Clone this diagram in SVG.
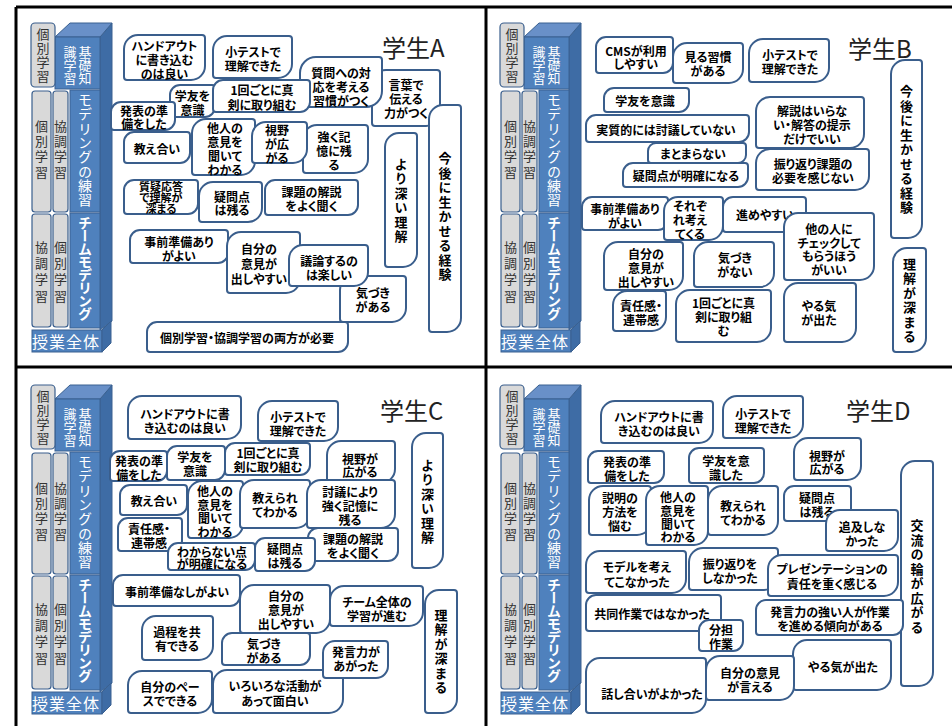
<svg xmlns="http://www.w3.org/2000/svg" xmlns:xlink="http://www.w3.org/1999/xlink" width="952" height="726" viewBox="0 0 952 726">
<style>
.b{fill:#fff;stroke:#3A5E8C;stroke-width:2}
.t{font-family:"Noto Sans CJK JP","Noto Sans CJK SC",sans-serif;font-size:12px;font-weight:700;fill:#000;text-anchor:middle;dominant-baseline:central;font-feature-settings:"palt"}
.v{writing-mode:vertical-rl;font-size:13px;letter-spacing:1.5px;font-feature-settings:normal}
.ti{font-family:"Noto Sans CJK JP","Noto Sans CJK SC",sans-serif;font-size:24px;fill:#222}
.fr{stroke:#000;stroke-width:3;fill:none}
.gb{fill:#D9D9D9;stroke:#3A5F8E;stroke-width:1.2}
.gt{font-family:"Noto Sans CJK JP","Noto Sans CJK SC",sans-serif;font-size:13px;fill:#333;text-anchor:middle;writing-mode:vertical-rl;dominant-baseline:central}
.wt{fill:#fff}
.bf{fill:#4F81BD;stroke:#3A6191;stroke-width:1}
.bs{fill:#3E6CA5;stroke:#3A6191;stroke-width:1}
.btop{fill:#6990C8;stroke:#3A6191;stroke-width:1}
</style>
<defs>
<g id="bar">
 <polygon class="bs" points="100,37 112,23 112,321 100,330"/>
 <polygon class="btop" points="55,37 70,23 112,23 100,37"/>
 <rect class="bf" x="55" y="37" width="45" height="52"/>
 <rect class="bf" x="70" y="90" width="30" height="122"/>
 <rect class="bf" x="70" y="213" width="30" height="115"/>
 <rect class="gb" x="31" y="23" width="24" height="64" rx="4"/>
 <rect class="gb" x="32" y="91" width="19" height="121" rx="3"/>
 <rect class="gb" x="53" y="91" width="15" height="121" rx="3"/>
 <rect class="gb" x="32" y="214" width="19" height="113" rx="3"/>
 <rect class="gb" x="53" y="214" width="15" height="113" rx="3"/>
 <rect class="bf" x="32" y="330" width="70" height="22"/>
 <polygon class="bs" points="102,330 111,321 111,343 102,352"/>
 <text class="gt" x="43" y="56" style="letter-spacing:1px">個別学習</text>
 <text class="gt" x="41.5" y="150" style="letter-spacing:2.3px">個別学習</text>
 <text class="gt" x="60.5" y="150" style="letter-spacing:2.3px">協調学習</text>
 <text class="gt" x="41.5" y="273" style="letter-spacing:3.3px">協調学習</text>
 <text class="gt" x="60.5" y="273" style="letter-spacing:3.3px">個別学習</text>
 <text class="gt wt" x="85" y="65">基礎知</text>
 <text class="gt wt" x="70" y="65">識学習</text>
 <text class="gt wt" x="85" y="150" style="font-size:14px;letter-spacing:0.3px">モデリングの練習</text>
 <text class="gt wt" x="85" y="268" style="font-size:14px;font-weight:700;letter-spacing:-1px">チームモデリング</text>
 <text x="66" y="341" style="font-family:'Noto Sans CJK JP',sans-serif;font-size:16px;fill:#fff;text-anchor:middle;dominant-baseline:central;letter-spacing:1px">授業全体</text>
</g>
</defs>
<rect width="952" height="726" fill="#fff"/>
<g id="frame">
 <path class="fr" d="M16,7H952M16,7V726M486,7V726M16,367H952"/>
</g>
<g id="connectors"/>
<g id="barA"><use xlink:href="#bar"/></g>
<g id="barB"><use xlink:href="#bar" transform="translate(469,0)"/></g>
<g id="barC"><use xlink:href="#bar" transform="translate(0,362)"/></g>
<g id="barD"><use xlink:href="#bar" transform="translate(469,362)"/></g>
<text class="ti" x="382" y="57">学生A</text>
<text class="ti" x="848" y="58">学生B</text>
<text class="ti" x="380" y="420">学生C</text>
<text class="ti" x="846" y="420">学生D</text>

<g id="A1"><path class="b" d="M138,35h64a3,3 0 0 1 3,3v28a14,14 0 0 1 -14,14h-64a3,3 0 0 1 -3,-3v-28a14,14 0 0 1 14,-14z"/><text class="t"><tspan x="164.5" y="45">ハンドアウト</tspan><tspan x="164.5" y="59">に書き込む</tspan><tspan x="164.5" y="73">のは良い</tspan></text></g>
<g id="A2"><path class="b" d="M227,36h62a3,3 0 0 1 3,3v25a14,14 0 0 1 -14,14h-62a3,3 0 0 1 -3,-3v-25a14,14 0 0 1 14,-14z"/><text class="t"><tspan x="253" y="51">小テストで</tspan><tspan x="253" y="65">理解できた</tspan></text></g>
<g id="A4"><path class="b" d="M386,70h51a3,3 0 0 1 3,3v39a14,14 0 0 1 -14,14h-51a3,3 0 0 1 -3,-3v-39a14,14 0 0 1 14,-14z"/><text class="t"><tspan x="406" y="84">言葉で</tspan><tspan x="406" y="98">伝える</tspan><tspan x="406" y="112">力がつく</tspan></text></g>
<g id="A3"><path class="b" d="M316,57h63a3,3 0 0 1 3,3v31a16,16 0 0 1 -16,16h-63a3,3 0 0 1 -3,-3v-31a16,16 0 0 1 16,-16z"/><text class="t"><tspan x="341" y="72">質問への対</tspan><tspan x="341" y="86">応を考える</tspan><tspan x="341" y="100">習慣がつく</tspan></text></g>
<g id="A5"><path class="b" d="M443,105h15a3,3 0 0 1 3,3v210a14,14 0 0 1 -14,14h-15a3,3 0 0 1 -3,-3v-210a14,14 0 0 1 14,-14z"/><text class="t v" x="445" y="217">今後に生かせる経験</text></g>
<g id="A7"><path class="b" d="M180,85h32a3,3 0 0 1 3,3v19a10,10 0 0 1 -10,10h-32a3,3 0 0 1 -3,-3v-19a10,10 0 0 1 10,-10z"/><text class="t"><tspan x="192.5" y="95">学友を</tspan><tspan x="192.5" y="109">意識</tspan></text></g>
<g id="A8"><path class="b" d="M223,80h84a3,3 0 0 1 3,3v19a10,10 0 0 1 -10,10h-84a3,3 0 0 1 -3,-3v-19a10,10 0 0 1 10,-10z"/><text class="t"><tspan x="262" y="89">1回ごとに真</tspan><tspan x="262" y="104">剣に取り組む</tspan></text></g>
<g id="A9"><path class="b" d="M121,102h51a3,3 0 0 1 3,3v15a10,10 0 0 1 -10,10h-51a3,3 0 0 1 -3,-3v-15a10,10 0 0 1 10,-10z"/><text class="t"><tspan x="144" y="110">発表の準</tspan><tspan x="144" y="123">備をした</tspan></text></g>
<g id="A6"><path class="b" d="M399,133h15a3,3 0 0 1 3,3v117a14,14 0 0 1 -14,14h-15a3,3 0 0 1 -3,-3v-117a14,14 0 0 1 14,-14z"/><text class="t v" x="401" y="201">より深い理解</text></g>
<g id="A10"><path class="b" d="M206,119h46a3,3 0 0 1 3,3v39a14,14 0 0 1 -14,14h-46a3,3 0 0 1 -3,-3v-39a14,14 0 0 1 14,-14z"/><text class="t"><tspan x="225" y="127">他人の</tspan><tspan x="225" y="141">意見を</tspan><tspan x="225" y="155">聞いて</tspan><tspan x="225" y="169">わかる</tspan></text></g>
<g id="A11"><path class="b" d="M134,132h53a3,3 0 0 1 3,3v18a10,10 0 0 1 -10,10h-53a3,3 0 0 1 -3,-3v-18a10,10 0 0 1 10,-10z"/><text class="t" x="157" y="148">教え合い</text></g>
<g id="A13"><path class="b" d="M317,125h48a3,3 0 0 1 3,3v31a14,14 0 0 1 -14,14h-48a3,3 0 0 1 -3,-3v-31a14,14 0 0 1 14,-14z"/><text class="t"><tspan x="334" y="136">強く記</tspan><tspan x="334" y="150">憶に残</tspan><tspan x="334" y="164">る</tspan></text></g>
<g id="A12"><path class="b" d="M266,122h38a3,3 0 0 1 3,3v24a14,14 0 0 1 -14,14h-38a3,3 0 0 1 -3,-3v-24a14,14 0 0 1 14,-14z"/><text class="t"><tspan x="277" y="129">視野</tspan><tspan x="277" y="143">が広</tspan><tspan x="277" y="157">がる</tspan></text></g>
<g id="A14"><path class="b" d="M134,180h61a3,3 0 0 1 3,3v21a10,10 0 0 1 -10,10h-61a3,3 0 0 1 -3,-3v-21a10,10 0 0 1 10,-10z"/><text class="t" style="font-size:11px"><tspan x="161" y="186">質疑応答</tspan><tspan x="161" y="197">で理解が</tspan><tspan x="161" y="208">深まる</tspan></text></g>
<g id="A15"><path class="b" d="M213,182h46a3,3 0 0 1 3,3v23a14,14 0 0 1 -14,14h-46a3,3 0 0 1 -3,-3v-23a14,14 0 0 1 14,-14z"/><text class="t"><tspan x="232" y="196">疑問点</tspan><tspan x="232" y="209">は残る</tspan></text></g>
<g id="A16"><path class="b" d="M275,180h80a3,3 0 0 1 3,3v22a10,10 0 0 1 -10,10h-80a3,3 0 0 1 -3,-3v-22a10,10 0 0 1 10,-10z"/><text class="t"><tspan x="311.5" y="191">課題の解説</tspan><tspan x="311.5" y="205">をよく聞く</tspan></text></g>
<g id="A17"><path class="b" d="M140,230h85a3,3 0 0 1 3,3v20a10,10 0 0 1 -10,10h-85a3,3 0 0 1 -3,-3v-20a10,10 0 0 1 10,-10z"/><text class="t"><tspan x="179" y="241">事前準備あり</tspan><tspan x="179" y="255">がよい</tspan></text></g>
<g id="A18"><path class="b" d="M241,232h56a3,3 0 0 1 3,3v44a14,14 0 0 1 -14,14h-56a3,3 0 0 1 -3,-3v-44a14,14 0 0 1 14,-14z"/><text class="t"><tspan x="259" y="248">自分の</tspan><tspan x="259" y="263">意見が</tspan><tspan x="259" y="278">出しやすい</tspan></text></g>
<g id="A20"><path class="b" d="M354,276h49a3,3 0 0 1 3,3v29a14,14 0 0 1 -14,14h-49a3,3 0 0 1 -3,-3v-29a14,14 0 0 1 14,-14z"/><text class="t"><tspan x="373" y="292">気づき</tspan><tspan x="373" y="306">がある</tspan></text></g>
<g id="A19"><path class="b" d="M303,245h62a3,3 0 0 1 3,3v24a14,14 0 0 1 -14,14h-62a3,3 0 0 1 -3,-3v-24a14,14 0 0 1 14,-14z"/><text class="t"><tspan x="329" y="260">議論するの</tspan><tspan x="329" y="274">は楽しい</tspan></text></g>
<g id="A21"><path class="b" d="M157,322h188a3,3 0 0 1 3,3v17a10,10 0 0 1 -10,10h-188a3,3 0 0 1 -3,-3v-17a10,10 0 0 1 10,-10z"/><text class="t" x="247" y="337">個別学習・協調学習の両方が必要</text></g>

<g id="B1"><path class="b" d="M606,37h64a3,3 0 0 1 3,3v23a10,10 0 0 1 -10,10h-64a3,3 0 0 1 -3,-3v-23a10,10 0 0 1 10,-10z"/><text class="t"><tspan x="636" y="50">CMSが利用</tspan><tspan x="636" y="63">しやすい</tspan></text></g>
<g id="B2"><path class="b" d="M687,43h53a3,3 0 0 1 3,3v23a14,14 0 0 1 -14,14h-53a3,3 0 0 1 -3,-3v-23a14,14 0 0 1 14,-14z"/><text class="t"><tspan x="708" y="56">見る習慣</tspan><tspan x="708" y="70">がある</tspan></text></g>
<g id="B3"><path class="b" d="M763,39h63a3,3 0 0 1 3,3v26a14,14 0 0 1 -14,14h-63a3,3 0 0 1 -3,-3v-26a14,14 0 0 1 14,-14z"/><text class="t"><tspan x="790" y="54">小テストで</tspan><tspan x="790" y="68">理解できた</tspan></text></g>
<g id="B5"><path class="b" d="M905,60h14a3,3 0 0 1 3,3v161a14,14 0 0 1 -14,14h-14a3,3 0 0 1 -3,-3v-161a14,14 0 0 1 14,-14z"/><text class="t v" x="906.5" y="150">今後に生かせる経験</text></g>
<g id="B6"><path class="b" d="M907,248h16a3,3 0 0 1 3,3v87a14,14 0 0 1 -14,14h-16a3,3 0 0 1 -3,-3v-87a14,14 0 0 1 14,-14z"/><text class="t v" x="909.5" y="301">理解が深まる</text></g>
<g id="B7"><path class="b" d="M614,88h72a3,3 0 0 1 3,3v11a10,10 0 0 1 -10,10h-72a3,3 0 0 1 -3,-3v-11a10,10 0 0 1 10,-10z"/><text class="t" x="645" y="100">学友を意識</text></g>
<g id="B8"><path class="b" d="M596,115h150a3,3 0 0 1 3,3v14a10,10 0 0 1 -10,10h-150a3,3 0 0 1 -3,-3v-14a10,10 0 0 1 10,-10z"/><text class="t" x="666" y="129">実質的には討議していない</text></g>
<g id="B9"><path class="b" d="M656,143h87a3,3 0 0 1 3,3v9a8,8 0 0 1 -8,8h-87a3,3 0 0 1 -3,-3v-9a8,8 0 0 1 8,-8z"/><text class="t" x="693" y="153.5">まとまらない</text></g>
<g id="B10"><path class="b" d="M633,163h112a3,3 0 0 1 3,3v11a10,10 0 0 1 -10,10h-112a3,3 0 0 1 -3,-3v-11a10,10 0 0 1 10,-10z"/><text class="t" x="686" y="175">疑問点が明確になる</text></g>
<g id="B11"><path class="b" d="M770,97h91a3,3 0 0 1 3,3v34a14,14 0 0 1 -14,14h-91a3,3 0 0 1 -3,-3v-34a14,14 0 0 1 14,-14z"/><text class="t"><tspan x="812" y="110">解説はいらな</tspan><tspan x="812" y="124">い・解答の提示</tspan><tspan x="812" y="138">だけでいい</tspan></text></g>
<g id="B12"><path class="b" d="M770,149h96a3,3 0 0 1 3,3v24a14,14 0 0 1 -14,14h-96a3,3 0 0 1 -3,-3v-24a14,14 0 0 1 14,-14z"/><text class="t"><tspan x="813" y="163">振り返り課題の</tspan><tspan x="813" y="177">必要を感じない</tspan></text></g>
<g id="B13"><path class="b" d="M592,197h73a3,3 0 0 1 3,3v20a10,10 0 0 1 -10,10h-73a3,3 0 0 1 -3,-3v-20a10,10 0 0 1 10,-10z"/><text class="t"><tspan x="625" y="208">事前準備あり</tspan><tspan x="625" y="222">がよい</tspan></text></g>
<g id="B14"><path class="b" d="M678,197h42a3,3 0 0 1 3,3v26a14,14 0 0 1 -14,14h-42a3,3 0 0 1 -3,-3v-26a14,14 0 0 1 14,-14z"/><text class="t"><tspan x="690" y="205">それぞ</tspan><tspan x="690" y="219">れ考え</tspan><tspan x="690" y="233">てくる</tspan></text></g>
<g id="B15"><path class="b" d="M733,197h70a3,3 0 0 1 3,3v22a10,10 0 0 1 -10,10h-70a3,3 0 0 1 -3,-3v-22a10,10 0 0 1 10,-10z"/><text class="t" x="765" y="214">進めやすい</text></g>
<g id="B18"><path class="b" d="M798,213h73a3,3 0 0 1 3,3v50a14,14 0 0 1 -14,14h-73a3,3 0 0 1 -3,-3v-50a14,14 0 0 1 14,-14z"/><text class="t"><tspan x="829" y="228">他の人に</tspan><tspan x="829" y="241.5">チェックして</tspan><tspan x="829" y="255">もらうほう</tspan><tspan x="829" y="268.5">がいい</tspan></text></g>
<g id="B16"><path class="b" d="M618,242h62a3,3 0 0 1 3,3v31a14,14 0 0 1 -14,14h-62a3,3 0 0 1 -3,-3v-31a14,14 0 0 1 14,-14z"/><text class="t"><tspan x="646" y="253">自分の</tspan><tspan x="646" y="267">意見が</tspan><tspan x="646" y="281">出しやすい</tspan></text></g>
<g id="B17"><path class="b" d="M708,242h63a3,3 0 0 1 3,3v28a14,14 0 0 1 -14,14h-63a3,3 0 0 1 -3,-3v-28a14,14 0 0 1 14,-14z"/><text class="t"><tspan x="735" y="257">気づき</tspan><tspan x="735" y="271">がない</tspan></text></g>
<g id="B19"><path class="b" d="M627,291h36a3,3 0 0 1 3,3v23a14,14 0 0 1 -14,14h-36a3,3 0 0 1 -3,-3v-23a14,14 0 0 1 14,-14z"/><text class="t"><tspan x="641" y="305">責任感・</tspan><tspan x="641" y="319">連帯感</tspan></text></g>
<g id="B20"><path class="b" d="M690,290h78a3,3 0 0 1 3,3v35a14,14 0 0 1 -14,14h-78a3,3 0 0 1 -3,-3v-35a14,14 0 0 1 14,-14z"/><text class="t"><tspan x="723.5" y="302">1回ごとに真</tspan><tspan x="723.5" y="316">剣に取り組</tspan><tspan x="723.5" y="330">む</tspan></text></g>
<g id="B21"><path class="b" d="M798,283h55a3,3 0 0 1 3,3v42a14,14 0 0 1 -14,14h-55a3,3 0 0 1 -3,-3v-42a14,14 0 0 1 14,-14z"/><text class="t"><tspan x="819" y="305">やる気</tspan><tspan x="819" y="319">が出た</tspan></text></g>

<g id="C1"><path class="b" d="M142,396h96a3,3 0 0 1 3,3v26a14,14 0 0 1 -14,14h-96a3,3 0 0 1 -3,-3v-26a14,14 0 0 1 14,-14z"/><text class="t"><tspan x="185" y="413">ハンドアウトに書</tspan><tspan x="185" y="427">き込むのは良い</tspan></text></g>
<g id="C2"><path class="b" d="M272,401h63a3,3 0 0 1 3,3v23a14,14 0 0 1 -14,14h-63a3,3 0 0 1 -3,-3v-23a14,14 0 0 1 14,-14z"/><text class="t"><tspan x="298" y="416">小テストで</tspan><tspan x="298" y="430">理解できた</tspan></text></g>
<g id="C4"><path class="b" d="M120,451h44a3,3 0 0 1 3,3v17a10,10 0 0 1 -10,10h-44a3,3 0 0 1 -3,-3v-17a10,10 0 0 1 10,-10z"/><text class="t"><tspan x="139" y="460">発表の準</tspan><tspan x="139" y="474">備をした</tspan></text></g>
<g id="C5"><path class="b" d="M177,446h45a3,3 0 0 1 3,3v21a10,10 0 0 1 -10,10h-45a3,3 0 0 1 -3,-3v-21a10,10 0 0 1 10,-10z"/><text class="t"><tspan x="195" y="456">学友を</tspan><tspan x="195" y="470">意識</tspan></text></g>
<g id="C6"><path class="b" d="M235,443h72a3,3 0 0 1 3,3v19a10,10 0 0 1 -10,10h-72a3,3 0 0 1 -3,-3v-19a10,10 0 0 1 10,-10z"/><text class="t"><tspan x="268" y="452">1回ごとに真</tspan><tspan x="268" y="466">剣に取り組む</tspan></text></g>
<g id="C7"><path class="b" d="M341,441h51a3,3 0 0 1 3,3v25a14,14 0 0 1 -14,14h-51a3,3 0 0 1 -3,-3v-25a14,14 0 0 1 14,-14z"/><text class="t"><tspan x="360" y="458">視野が</tspan><tspan x="360" y="471">広がる</tspan></text></g>
<g id="C8"><path class="b" d="M426,433h14a3,3 0 0 1 3,3v118a14,14 0 0 1 -14,14h-14a3,3 0 0 1 -3,-3v-118a14,14 0 0 1 14,-14z"/><text class="t v" x="427.5" y="502">より深い理解</text></g>
<g id="C9"><path class="b" d="M130,485h54a3,3 0 0 1 3,3v17a10,10 0 0 1 -10,10h-54a3,3 0 0 1 -3,-3v-17a10,10 0 0 1 10,-10z"/><text class="t" x="154" y="500">教え合い</text></g>
<g id="C10"><path class="b" d="M202,481h38a3,3 0 0 1 3,3v40a14,14 0 0 1 -14,14h-38a3,3 0 0 1 -3,-3v-40a14,14 0 0 1 14,-14z"/><text class="t"><tspan x="215" y="490">他人の</tspan><tspan x="215" y="503.5">意見を</tspan><tspan x="215" y="517">聞いて</tspan><tspan x="215" y="530.5">わかる</tspan></text></g>
<g id="C11"><path class="b" d="M254,480h53a3,3 0 0 1 3,3v31a14,14 0 0 1 -14,14h-53a3,3 0 0 1 -3,-3v-31a14,14 0 0 1 14,-14z"/><text class="t"><tspan x="275" y="497">教えられ</tspan><tspan x="275" y="511">てわかる</tspan></text></g>
<g id="C12"><path class="b" d="M321,480h71a3,3 0 0 1 3,3v31a14,14 0 0 1 -14,14h-71a3,3 0 0 1 -3,-3v-31a14,14 0 0 1 14,-14z"/><text class="t"><tspan x="350" y="491">討議により</tspan><tspan x="350" y="505">強く記憶に</tspan><tspan x="350" y="519">残る</tspan></text></g>
<g id="C13"><path class="b" d="M128,518h51a3,3 0 0 1 3,3v20a10,10 0 0 1 -10,10h-51a3,3 0 0 1 -3,-3v-20a10,10 0 0 1 10,-10z"/><text class="t"><tspan x="149" y="528">責任感・</tspan><tspan x="149" y="542">連帯感</tspan></text></g>
<g id="C14"><path class="b" d="M178,543h74a3,3 0 0 1 3,3v14a10,10 0 0 1 -10,10h-74a3,3 0 0 1 -3,-3v-14a10,10 0 0 1 10,-10z"/><text class="t"><tspan x="212" y="551">わからない点</tspan><tspan x="212" y="563">が明確になる</tspan></text></g>
<g id="C16"><path class="b" d="M318,528h77a3,3 0 0 1 3,3v20a10,10 0 0 1 -10,10h-77a3,3 0 0 1 -3,-3v-20a10,10 0 0 1 10,-10z"/><text class="t"><tspan x="353" y="538">課題の解説</tspan><tspan x="353" y="552">をよく聞く</tspan></text></g>
<g id="C15"><path class="b" d="M265,538h47a3,3 0 0 1 3,3v20a10,10 0 0 1 -10,10h-47a3,3 0 0 1 -3,-3v-20a10,10 0 0 1 10,-10z"/><text class="t"><tspan x="285" y="548">疑問点</tspan><tspan x="285" y="562">は残る</tspan></text></g>
<g id="C17"><path class="b" d="M123,575h114a3,3 0 0 1 3,3v18a10,10 0 0 1 -10,10h-114a3,3 0 0 1 -3,-3v-18a10,10 0 0 1 10,-10z"/><text class="t" x="177" y="591">事前準備なしがよい</text></g>
<g id="C18"><path class="b" d="M156,616h54a3,3 0 0 1 3,3v27a14,14 0 0 1 -14,14h-54a3,3 0 0 1 -3,-3v-27a14,14 0 0 1 14,-14z"/><text class="t"><tspan x="177" y="631">過程を共</tspan><tspan x="177" y="645">有できる</tspan></text></g>
<g id="C19"><path class="b" d="M254,585h73a3,3 0 0 1 3,3v31a14,14 0 0 1 -14,14h-73a3,3 0 0 1 -3,-3v-31a14,14 0 0 1 14,-14z"/><text class="t"><tspan x="286" y="595">自分の</tspan><tspan x="286" y="609">意見が</tspan><tspan x="286" y="623">出しやすい</tspan></text></g>
<g id="C20"><path class="b" d="M344,586h76a3,3 0 0 1 3,3v23a14,14 0 0 1 -14,14h-76a3,3 0 0 1 -3,-3v-23a14,14 0 0 1 14,-14z"/><text class="t"><tspan x="377" y="601">チーム全体の</tspan><tspan x="377" y="615">学習が進む</tspan></text></g>
<g id="C21"><path class="b" d="M439,590h15a3,3 0 0 1 3,3v106a14,14 0 0 1 -14,14h-15a3,3 0 0 1 -3,-3v-106a14,14 0 0 1 14,-14z"/><text class="t v" x="441" y="652">理解が深まる</text></g>
<g id="C22"><path class="b" d="M232,633h75a3,3 0 0 1 3,3v19a10,10 0 0 1 -10,10h-75a3,3 0 0 1 -3,-3v-19a10,10 0 0 1 10,-10z"/><text class="t"><tspan x="264" y="643">気づき</tspan><tspan x="264" y="657">がある</tspan></text></g>
<g id="C24"><path class="b" d="M142,671h67a3,3 0 0 1 3,3v25a14,14 0 0 1 -14,14h-67a3,3 0 0 1 -3,-3v-25a14,14 0 0 1 14,-14z"/><text class="t"><tspan x="170" y="686">自分のペー</tspan><tspan x="170" y="700">スでできる</tspan></text></g>
<g id="C25"><path class="b" d="M227,670h113a3,3 0 0 1 3,3v26a14,14 0 0 1 -14,14h-113a3,3 0 0 1 -3,-3v-26a14,14 0 0 1 14,-14z"/><text class="t"><tspan x="275" y="685">いろいろな活動が</tspan><tspan x="275" y="700">あって面白い</tspan></text></g>
<g id="C23"><path class="b" d="M335,641h50a3,3 0 0 1 3,3v22a12,12 0 0 1 -12,12h-50a3,3 0 0 1 -3,-3v-22a12,12 0 0 1 12,-12z"/><text class="t"><tspan x="356" y="651">発言力が</tspan><tspan x="356" y="665">あがった</tspan></text></g>

<g id="D1"><path class="b" d="M615,401h95a3,3 0 0 1 3,3v25a14,14 0 0 1 -14,14h-95a3,3 0 0 1 -3,-3v-25a14,14 0 0 1 14,-14z"/><text class="t"><tspan x="659" y="416">ハンドアウトに書</tspan><tspan x="659" y="430">き込むのは良い</tspan></text></g>
<g id="D2"><path class="b" d="M737,396h63a3,3 0 0 1 3,3v25a14,14 0 0 1 -14,14h-63a3,3 0 0 1 -3,-3v-25a14,14 0 0 1 14,-14z"/><text class="t"><tspan x="763" y="413">小テストで</tspan><tspan x="763" y="427">理解できた</tspan></text></g>
<g id="D4"><path class="b" d="M808,438h50a3,3 0 0 1 3,3v25a14,14 0 0 1 -14,14h-50a3,3 0 0 1 -3,-3v-25a14,14 0 0 1 14,-14z"/><text class="t"><tspan x="827" y="455">視野が</tspan><tspan x="827" y="468">広がる</tspan></text></g>
<g id="D5"><path class="b" d="M915,461h15a3,3 0 0 1 3,3v208a14,14 0 0 1 -14,14h-15a3,3 0 0 1 -3,-3v-208a14,14 0 0 1 14,-14z"/><text class="t v" x="917" y="577">交流の輪が広がる</text></g>
<g id="D6"><path class="b" d="M598,451h63a3,3 0 0 1 3,3v19a10,10 0 0 1 -10,10h-63a3,3 0 0 1 -3,-3v-19a10,10 0 0 1 10,-10z"/><text class="t"><tspan x="627" y="461">発表の準</tspan><tspan x="627" y="475">備をした</tspan></text></g>
<g id="D7"><path class="b" d="M699,448h62a3,3 0 0 1 3,3v22a10,10 0 0 1 -10,10h-62a3,3 0 0 1 -3,-3v-22a10,10 0 0 1 10,-10z"/><text class="t"><tspan x="726" y="460">学友を意</tspan><tspan x="726" y="474">識した</tspan></text></g>
<g id="D8"><path class="b" d="M603,486h45a3,3 0 0 1 3,3v32a14,14 0 0 1 -14,14h-45a3,3 0 0 1 -3,-3v-32a14,14 0 0 1 14,-14z"/><text class="t"><tspan x="620" y="497">説明の</tspan><tspan x="620" y="511">方法を</tspan><tspan x="620" y="525">悩む</tspan></text></g>
<g id="D9"><path class="b" d="M660,486h45a3,3 0 0 1 3,3v42a14,14 0 0 1 -14,14h-45a3,3 0 0 1 -3,-3v-42a14,14 0 0 1 14,-14z"/><text class="t"><tspan x="678" y="496">他人の</tspan><tspan x="678" y="510">意見を</tspan><tspan x="678" y="523">聞いて</tspan><tspan x="678" y="536">わかる</tspan></text></g>
<g id="D10"><path class="b" d="M722,486h53a3,3 0 0 1 3,3v32a14,14 0 0 1 -14,14h-53a3,3 0 0 1 -3,-3v-32a14,14 0 0 1 14,-14z"/><text class="t"><tspan x="743" y="505">教えられ</tspan><tspan x="743" y="519">てわかる</tspan></text></g>
<g id="D11"><path class="b" d="M794,486h54a3,3 0 0 1 3,3v22a10,10 0 0 1 -10,10h-54a3,3 0 0 1 -3,-3v-22a10,10 0 0 1 10,-10z"/><text class="t"><tspan x="817" y="497">疑問点</tspan><tspan x="817" y="511">は残る</tspan></text></g>
<g id="D12"><path class="b" d="M840,510h55a3,3 0 0 1 3,3v24a14,14 0 0 1 -14,14h-55a3,3 0 0 1 -3,-3v-24a14,14 0 0 1 14,-14z"/><text class="t"><tspan x="862" y="526">追及しな</tspan><tspan x="862" y="540">かった</tspan></text></g>
<g id="D13"><path class="b" d="M600,551h83a3,3 0 0 1 3,3v25a14,14 0 0 1 -14,14h-83a3,3 0 0 1 -3,-3v-25a14,14 0 0 1 14,-14z"/><text class="t"><tspan x="637" y="566">モデルを考え</tspan><tspan x="637" y="581">てこなかった</tspan></text></g>
<g id="D14"><path class="b" d="M703,548h72a3,3 0 0 1 3,3v25a14,14 0 0 1 -14,14h-72a3,3 0 0 1 -3,-3v-25a14,14 0 0 1 14,-14z"/><text class="t"><tspan x="730" y="563">振り返りを</tspan><tspan x="730" y="577">しなかった</tspan></text></g>
<g id="D15"><path class="b" d="M782,555h113a3,3 0 0 1 3,3v24a14,14 0 0 1 -14,14h-113a3,3 0 0 1 -3,-3v-24a14,14 0 0 1 14,-14z"/><text class="t"><tspan x="832" y="568">プレゼンテーションの</tspan><tspan x="832" y="583">責任を重く感じる</tspan></text></g>
<g id="D16"><path class="b" d="M596,595h122a3,3 0 0 1 3,3v23a10,10 0 0 1 -10,10h-122a3,3 0 0 1 -3,-3v-23a10,10 0 0 1 10,-10z"/><text class="t" x="652" y="613">共同作業ではなかった</text></g>
<g id="D17"><path class="b" d="M709,620h31a3,3 0 0 1 3,3v18a10,10 0 0 1 -10,10h-31a3,3 0 0 1 -3,-3v-18a10,10 0 0 1 10,-10z"/><text class="t"><tspan x="721" y="629">分担</tspan><tspan x="721" y="643">作業</tspan></text></g>
<g id="D18"><path class="b" d="M766,600h134a3,3 0 0 1 3,3v22a10,10 0 0 1 -10,10h-134a3,3 0 0 1 -3,-3v-22a10,10 0 0 1 10,-10z"/><text class="t"><tspan x="830" y="611">発言力の強い人が作業</tspan><tspan x="830" y="625">を進める傾向がある</tspan></text></g>
<g id="D19"><path class="b" d="M807,640h81a3,3 0 0 1 3,3v33a14,14 0 0 1 -14,14h-81a3,3 0 0 1 -3,-3v-33a14,14 0 0 1 14,-14z"/><text class="t" x="843" y="666">やる気が出た</text></g>
<g id="D21"><path class="b" d="M600,658h103a3,3 0 0 1 3,3v38a14,14 0 0 1 -14,14h-103a3,3 0 0 1 -3,-3v-38a14,14 0 0 1 14,-14z"/><text class="t" x="652" y="693">話し合いがよかった</text></g>
<g id="D20"><path class="b" d="M720,656h71a3,3 0 0 1 3,3v27a14,14 0 0 1 -14,14h-71a3,3 0 0 1 -3,-3v-27a14,14 0 0 1 14,-14z"/><text class="t"><tspan x="750" y="672">自分の意見</tspan><tspan x="750" y="686">が言える</tspan></text></g>
</svg>
